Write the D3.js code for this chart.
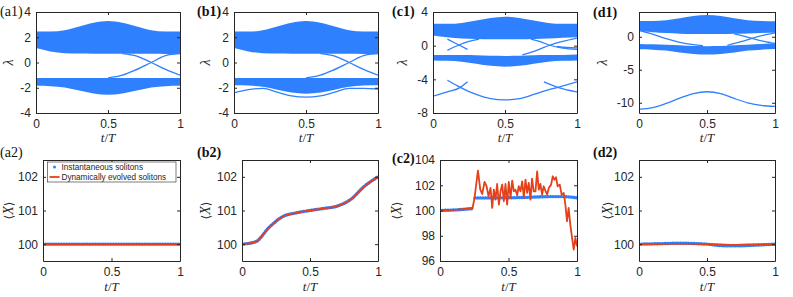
<!DOCTYPE html>
<html>
<head>
<meta charset="utf-8">
<script src="https://cdn.jsdelivr.net/npm/d3@7"></script>
<style>
  body { margin: 0; background: #fff; }
  svg { display: block; }
</style>
</head>
<body>
<div id="chart"></div>
<script>
// shared sampling in t/T for the smooth curves
const tGrid = [0, 0.1, 0.2, 0.3, 0.4, 0.5, 0.6, 0.7, 0.8, 0.9, 1];
const xTicks = [0, 0.5, 1];

// (a1) spectrum: upper and lower bands + edge states
const a1UpTop = [2.45, 2.45, 2.55, 2.85, 3.15, 3.28, 3.15, 2.85, 2.55, 2.45, 2.45];
const a1UpBot = [1.15, 0.88, 0.74, 0.71, 0.7, 0.7, 0.7, 0.7, 0.69, 0.67, 0.65];
const a1LoTop = [-1.22, -1.22, -1.22, -1.22, -1.22, -1.22, -1.22, -1.22, -1.22, -1.22, -1.22];
const a1LoBot = [-1.85, -1.88, -1.98, -2.22, -2.45, -2.55, -2.45, -2.22, -1.98, -1.88, -1.85];
const a1Lines = [
  [[0.5, -1.22], [0.6, -1.0], [0.68, -0.65], [0.8, 0], [0.9, 0.55], [1, 0.72]],
  [[0.6, 0.7], [0.7, 0.5], [0.8, 0], [0.9, -0.55], [1, -1.0]]
];

// (b1)
const b1UpTop = [2.45, 2.45, 2.55, 2.85, 3.15, 3.28, 3.15, 2.85, 2.55, 2.45, 2.45];
const b1UpBot = [1.15, 0.88, 0.74, 0.71, 0.7, 0.7, 0.7, 0.7, 0.69, 0.67, 0.65];
const b1LoTop = [-1.22, -1.22, -1.22, -1.22, -1.22, -1.22, -1.22, -1.22, -1.22, -1.22, -1.22];
const b1LoBot = [-1.8, -1.83, -1.92, -2.15, -2.38, -2.47, -2.38, -2.15, -1.92, -1.83, -1.8];
const b1Lines = [
  [[0.5, -1.22], [0.6, -1.0], [0.68, -0.65], [0.8, 0], [0.9, 0.55], [1, 0.72]],
  [[0.6, 0.7], [0.7, 0.5], [0.8, 0], [0.9, -0.55], [1, -1.0]],
  [[0, -2.4], [0.1, -2.15], [0.2, -2.05], [0.3, -2.35], [0.4, -2.65], [0.5, -2.75],
   [0.6, -2.65], [0.7, -2.35], [0.8, -2.05], [0.9, -2.05], [1, -2.1]]
];

// (c1)
const c1UpTop = [2.6, 2.6, 2.7, 3.0, 3.3, 3.45, 3.3, 3.0, 2.7, 2.6, 2.6];
const c1UpBot = [1.2, 1.0, 0.85, 0.78, 0.75, 0.75, 0.75, 0.78, 0.85, 0.95, 1.0];
const c1LoTop = [-1.1, -1.1, -1.12, -1.15, -1.2, -1.22, -1.2, -1.15, -1.12, -1.1, -1.05];
const c1LoBot = [-1.75, -1.8, -1.9, -2.15, -2.4, -2.5, -2.4, -2.15, -1.9, -1.8, -1.75];
const c1Lines = [
  [[0.1, -0.55], [0.18, 0.08], [0.25, 0.5], [0.32, 0.78]],
  [[0.1, 0.78], [0.18, 0.08], [0.24, -0.45]],
  [[0.62, -1.1], [0.72, -0.55], [0.81, 0.05], [0.9, 0.5], [1, 0.9]],
  [[0.68, 0.78], [0.75, 0.45], [0.81, 0.05], [0.9, -0.3], [1, -0.45]],
  [[0.86, -0.1], [0.93, -0.22], [1, -0.27]],
  [[0.1, -4.1], [0.19, -4.95], [0.3, -5.8], [0.4, -6.3], [0.5, -6.45], [0.6, -6.3],
   [0.7, -5.8], [0.8, -5.25], [0.866, -4.95], [1, -4.3]],
  [[0, -6.0], [0.1, -5.5], [0.19, -4.95], [0.24, -4.3]],
  [[0.77, -4.3], [0.866, -4.95], [1, -5.5]]
];

// (d1)
const d1UpTop = [2.4, 2.4, 2.5, 2.8, 3.15, 3.3, 3.15, 2.8, 2.5, 2.4, 2.35];
const d1UpBot = [0.9, 0.7, 0.55, 0.45, 0.4, 0.4, 0.4, 0.45, 0.5, 0.58, 0.62];
const d1LoTop = [-1.1, -1.15, -1.2, -1.3, -1.4, -1.42, -1.4, -1.3, -1.2, -1.1, -1.0];
const d1LoBot = [-1.9, -1.95, -2.1, -2.4, -2.6, -2.7, -2.6, -2.4, -2.1, -1.95, -1.87];
const d1Lines = [
  [[0, 0.95], [0.1, 0.4], [0.2, -0.3], [0.3, -0.85], [0.4, -1.2], [0.47, -1.35]],
  [[0.65, -1.3], [0.75, -0.75], [0.83, -0.25], [0.92, 0.25], [1, 0.6]],
  [[0.7, 0.42], [0.77, 0.1], [0.83, -0.25], [0.92, -0.7], [1, -1.0]],
  [[0, -11.0], [0.1, -10.75], [0.2, -10.1], [0.3, -9.3], [0.4, -8.6], [0.5, -8.33],
   [0.6, -8.6], [0.7, -9.35], [0.8, -10.0], [0.9, -10.4], [1, -10.55]]
];

// bottom row: <X> of instantaneous vs dynamically evolved solitons
const a2Inst = [100, 100, 100, 100, 100, 100, 100, 100, 100, 100, 100];
const a2Evol = [100, 100, 100, 100, 100, 100, 100, 100, 100, 100, 100];
const b2Inst = [100, 100.07, 100.5, 100.82, 100.93, 101.0, 101.06, 101.13, 101.33, 101.72, 102.0];
const b2Evol = [100, 100.07, 100.5, 100.82, 100.93, 101.0, 101.06, 101.13, 101.33, 101.72, 102.0];
const d2Inst = [100, 100.01, 100.02, 100.03, 100.02, 100.0, 99.96, 99.95, 99.96, 99.98, 100.0];
const d2Evol = [100, 100, 100.01, 100.01, 100.01, 100.0, 99.99, 99.98, 99.99, 99.99, 100.0];

const c2InstT1 = [0, 0.12, 0.24];
const c2Inst1 = [100.0, 100.05, 100.15];
const c2InstT2 = [0.255, 0.4, 0.6, 0.8, 0.9, 1];
const c2Inst2 = [101.0, 101.0, 101.03, 101.1, 101.1, 101.0];
const c2EvolT = [0, 0.131, 0.238, 0.252, 0.277, 0.294, 0.308, 0.325, 0.340, 0.354,
  0.369, 0.381, 0.393, 0.405, 0.417, 0.430, 0.442, 0.454, 0.466, 0.478,
  0.490, 0.502, 0.515, 0.527, 0.539, 0.551, 0.563, 0.575, 0.587, 0.600,
  0.612, 0.624, 0.636, 0.648, 0.660, 0.672, 0.684, 0.697, 0.709, 0.721,
  0.733, 0.745, 0.757, 0.769, 0.782, 0.794, 0.811, 0.823, 0.835, 0.847,
  0.859, 0.874, 0.888, 0.903, 0.915, 0.927, 0.939, 0.951, 0.964, 0.976, 0.988, 1.0];
const c2Evol = [100.02, 100.07, 100.20, 100.99, 103.16, 101.65, 101.31, 102.26, 101.92, 101.12,
  101.78, 100.20, 101.65, 100.86, 102.10, 100.46, 101.52, 102.05, 100.73, 102.10,
  100.46, 102.26, 100.99, 102.36, 101.52, 101.65, 101.20, 101.92, 101.52, 102.31,
  100.99, 102.44, 101.39, 102.18, 100.86, 102.52, 101.52, 101.52, 103.10, 101.65,
  102.10, 101.26, 101.92, 101.57, 101.26, 101.78, 102.05, 102.71, 102.44, 102.63,
  101.92, 102.05, 101.26, 101.39, 100.46, 99.15, 100.20, 98.88, 97.83, 96.90, 97.83, 97.17];

const BLUE = "#2f80ff", RED = "#e5401a", INK = "#262626";

const svg = d3.select("#chart").append("svg").attr("width", 793).attr("height", 297);

let clipId = 0;
function makePanel(box, yDom, yTicks) {
  const x = d3.scaleLinear().domain([0, 1]).range([box.x, box.x + box.w]);
  const y = d3.scaleLinear().domain(yDom).range([box.y + box.h, box.y]);
  const id = "clip" + (clipId++);
  svg.append("clipPath").attr("id", id).append("rect")
    .attr("x", box.x).attr("y", box.y).attr("width", box.w).attr("height", box.h);
  const g = svg.append("g").attr("clip-path", `url(#${id})`);
  return { x, y, g, box, yTicks };
}

function drawAxes(p, xPad) {
  const { x, y, box, yTicks } = p;
  const fmt = d => String(d);
  const ax = svg.append("g").attr("class", "axes");
  ax.append("g").attr("transform", `translate(0,${box.y + box.h})`)
    .call(d3.axisBottom(x).tickValues(xTicks).tickSize(-3).tickSizeOuter(0).tickPadding(xPad).tickFormat(fmt));
  ax.append("g").attr("transform", `translate(0,${box.y})`)
    .call(d3.axisTop(x).tickValues(xTicks).tickSize(-3).tickSizeOuter(0).tickFormat(""));
  ax.append("g").attr("transform", `translate(${box.x},0)`)
    .call(d3.axisLeft(y).tickValues(yTicks).tickSize(-3).tickSizeOuter(0).tickPadding(5).tickFormat(fmt));
  ax.append("g").attr("transform", `translate(${box.x + box.w},0)`)
    .call(d3.axisRight(y).tickValues(yTicks).tickSize(-3).tickSizeOuter(0).tickFormat(""));
  ax.selectAll(".domain").attr("stroke", INK).attr("stroke-width", 1);
  ax.selectAll(".tick line").attr("stroke", INK);
  ax.selectAll("text").attr("fill", INK).attr("font-family", "Liberation Sans, Arial, sans-serif").attr("font-size", 12);
}

function drawBands(p, top1, bot1, top2, bot2) {
  const area = d3.area().curve(d3.curveMonotoneX)
    .x(d => p.x(d[0])).y0(d => p.y(d[2])).y1(d => p.y(d[1]));
  p.g.append("path").attr("d", area(d3.zip(tGrid, top1, bot1))).attr("fill", BLUE);
  p.g.append("path").attr("d", area(d3.zip(tGrid, top2, bot2))).attr("fill", BLUE);
}

function drawLines(p, lines) {
  const line = d3.line().curve(d3.curveMonotoneX).x(d => p.x(d[0])).y(d => p.y(d[1]));
  p.g.selectAll(null).data(lines).enter().append("path")
    .attr("d", line).attr("fill", "none").attr("stroke", BLUE).attr("stroke-width", 1.3);
}

function drawInst(p, ts, vs, curve) {
  const line = d3.line().curve(curve).x(d => p.x(d[0])).y(d => p.y(d[1]));
  p.g.append("path").attr("d", line(d3.zip(ts, vs)))
    .attr("fill", "none").attr("stroke", BLUE).attr("stroke-width", 3.4)
    .attr("stroke-linecap", "round").attr("stroke-dasharray", "0.4,2.2");
}

function drawEvol(p, ts, vs, curve) {
  const line = d3.line().curve(curve).x(d => p.x(d[0])).y(d => p.y(d[1]));
  p.g.append("path").attr("d", line(d3.zip(ts, vs)))
    .attr("fill", "none").attr("stroke", RED).attr("stroke-width", 1.8).attr("stroke-linejoin", "round");
}

function panelLabel(txt, x, y, bold) {
  svg.append("text").attr("x", x).attr("y", y).text(txt)
    .attr("font-family", "Liberation Serif, Times New Roman, serif")
    .attr("font-size", 14).attr("font-weight", bold ? "bold" : "normal").attr("fill", "#111");
}

function xLabel(p, y) {
  const t = svg.append("text").attr("x", (p.box.x + p.box.x + p.box.w) / 2).attr("y", y)
    .attr("text-anchor", "middle").attr("font-family", "Liberation Serif, serif")
    .attr("font-size", 13).attr("fill", INK);
  t.append("tspan").attr("font-style", "italic").text("t");
  t.append("tspan").text("/");
  t.append("tspan").attr("font-style", "italic").text("T");
}

function yLabel(p, x, kind) {
  const cy = p.box.y + p.box.h / 2;
  const t = svg.append("text").attr("transform", `translate(${x},${cy}) rotate(-90)`)
    .attr("text-anchor", "middle").attr("font-family", "Liberation Serif, DejaVu Serif, serif")
    .attr("font-size", 14).attr("fill", INK);
  if (kind === "lambda") {
    t.append("tspan").attr("font-style", "italic").text("λ");
  } else {
    t.append("tspan").attr("font-family", "DejaVu Sans").attr("font-size", 12).text("⟨");
    t.append("tspan").attr("font-style", "italic").text("X");
    t.append("tspan").attr("font-family", "DejaVu Sans").attr("font-size", 12).text("⟩");
  }
}

// ---- top row ----
const pa1 = makePanel({ x: 36, y: 12, w: 144, h: 101 }, [-4, 4], [-4, -2, 0, 2, 4]);
drawBands(pa1, a1UpTop, a1UpBot, a1LoTop, a1LoBot);
drawLines(pa1, a1Lines);

const pb1 = makePanel({ x: 234, y: 12, w: 144, h: 101 }, [-4, 4], [-4, -2, 0, 2, 4]);
drawBands(pb1, b1UpTop, b1UpBot, b1LoTop, b1LoBot);
drawLines(pb1, b1Lines);

const pc1 = makePanel({ x: 433, y: 12, w: 144, h: 101 }, [-8, 4], [-8, -4, 0, 4]);
drawBands(pc1, c1UpTop, c1UpBot, c1LoTop, c1LoBot);
drawLines(pc1, c1Lines);

const pd1 = makePanel({ x: 639, y: 12, w: 136, h: 101 }, [-11.55, 3.75], [-10, -5, 0]);
drawBands(pd1, d1UpTop, d1UpBot, d1LoTop, d1LoBot);
drawLines(pd1, d1Lines);

[pa1, pb1, pc1, pd1].forEach(p => { drawAxes(p, 6); xLabel(p, 142); });
yLabel(pa1, 13, "lambda");
yLabel(pb1, 210, "lambda");
yLabel(pc1, 407, "lambda");
yLabel(pd1, 607, "lambda");

// ---- bottom row ----
const pa2 = makePanel({ x: 43, y: 160, w: 137, h: 101 }, [99.5, 102.5], [100, 101, 102]);
drawInst(pa2, tGrid, a2Inst, d3.curveMonotoneX);
drawEvol(pa2, tGrid, a2Evol, d3.curveMonotoneX);

const pb2 = makePanel({ x: 242, y: 160, w: 136, h: 101 }, [99.5, 102.5], [100, 101, 102]);
drawInst(pb2, tGrid, b2Inst, d3.curveMonotoneX);
drawEvol(pb2, tGrid, b2Evol, d3.curveMonotoneX);

const pc2 = makePanel({ x: 440, y: 160, w: 137, h: 101 }, [96, 104], [96, 98, 100, 102, 104]);
drawInst(pc2, c2InstT1, c2Inst1, d3.curveLinear);
drawInst(pc2, c2InstT2, c2Inst2, d3.curveMonotoneX);
drawEvol(pc2, c2EvolT, c2Evol, d3.curveLinear);

const pd2 = makePanel({ x: 639, y: 160, w: 136, h: 101 }, [99.5, 102.5], [100, 101, 102]);
drawInst(pd2, tGrid, d2Inst, d3.curveMonotoneX);
drawEvol(pd2, tGrid, d2Evol, d3.curveMonotoneX);

[pa2, pb2, pc2, pd2].forEach(p => { drawAxes(p, 6); xLabel(p, 291); });
yLabel(pa2, 13, "X");
yLabel(pb2, 210, "X");
yLabel(pc2, 401, "X");
yLabel(pd2, 612, "X");

// legend in (a2)
const leg = svg.append("g").attr("font-family", "Liberation Sans, Arial, sans-serif").attr("font-size", 8.2).attr("fill", INK);
leg.append("rect").attr("x", 47.5).attr("y", 162).attr("width", 128.5).attr("height", 20)
  .attr("fill", "#fff").attr("stroke", INK).attr("stroke-width", 0.6);
leg.append("circle").attr("cx", 54.5).attr("cy", 167).attr("r", 1.5).attr("fill", BLUE);
leg.append("text").attr("x", 61.5).attr("y", 169.8).text("Instantaneous solitons");
leg.append("line").attr("x1", 49.5).attr("x2", 59.5).attr("y1", 177).attr("y2", 177)
  .attr("stroke", RED).attr("stroke-width", 1.8);
leg.append("text").attr("x", 61.5).attr("y", 179.8).text("Dynamically evolved solitons");

// panel tags
panelLabel("(a1)", 0, 16, false);
panelLabel("(b1)", 197, 16, true);
panelLabel("(c1)", 392, 16, true);
panelLabel("(d1)", 593, 17, true);
panelLabel("(a2)", 0, 157, false);
panelLabel("(b2)", 197, 157, true);
panelLabel("(c2)", 392, 163, true);
panelLabel("(d2)", 593, 157, true);
</script>
</body>
</html>
